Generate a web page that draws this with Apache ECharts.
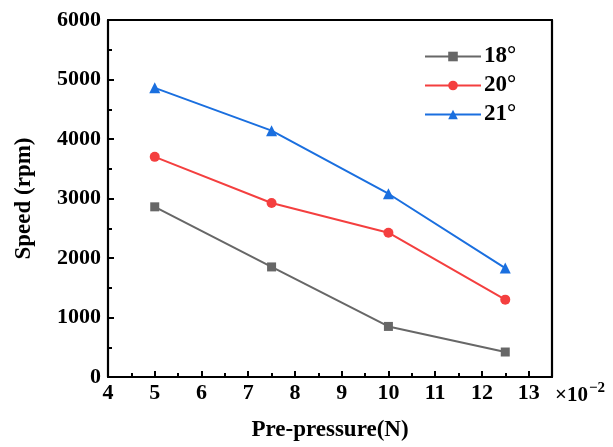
<!DOCTYPE html>
<html>
<head>
<meta charset="utf-8">
<script src="https://cdn.jsdelivr.net/npm/echarts@6/dist/echarts.min.js"></script>
<style>html,body{margin:0;padding:0;background:#fff}#c{width:613px;height:447px}</style>
</head>
<body>
<div id="c"></div>
<script>
const pressure = [5, 7.5, 10, 12.5];
const seriesNames = ['18°', '20°', '21°'];
const speed18 = [2860, 1850, 850, 420];
const speed20 = [3700, 2925, 2425, 1300];
const speed21 = [4860, 4140, 3080, 1830];
const yTicks = [0, 1000, 2000, 3000, 4000, 5000, 6000];

const FONT = 'Liberation Serif';
const colors = ['#676767', '#F43F3F', '#1A6FDF'];
const symbols = ['rect', 'circle', 'triangle'];
const sizes = [9, 10, 11];
const datas = [speed18, speed20, speed21];

const chart = echarts.init(document.getElementById('c'));
const mkLine = () => ({show: true, onZero: false, lineStyle: {color: '#000', width: 2.2}});
const mkTick = () => ({show: true, inside: true, interval: 0, length: 6, lineStyle: {width: 2, color: '#000'}});
const mkMinor = () => ({show: true, splitNumber: 2, length: 4, lineStyle: {width: 2, color: '#000'}});
chart.setOption({
  animation: false,
  grid: {left: 108, top: 20, right: 61, bottom: 68},
  legend: {
    orient: 'vertical', left: 419, top: 39, itemWidth: 56, itemHeight: 12, itemGap: 4,
    textStyle: {fontFamily: FONT, fontWeight: 'bold', fontSize: 23, color: '#000', lineHeight: 25, padding: [0,0,0,-2]},
    data: seriesNames
  },
  xAxis: [{
    type: 'value', min: 4, max: 13.5, interval: 1,
    name: 'Pre-pressure(N)', nameLocation: 'middle', nameGap: 42,
    nameTextStyle: {fontFamily: FONT, fontWeight: 'bold', fontSize: 23, color: '#000'},
    axisLine: mkLine(), axisTick: mkTick(), minorTick: mkMinor(),
    axisLabel: {fontFamily: FONT, fontWeight: 'bold', fontSize: 22, color: '#000', margin: 5, showMaxLabel: false,
      formatter: v => (Number.isInteger(v) ? String(v) : '')},
    splitLine: {show: false}
  }, {
    type: 'value', min: 4, max: 13.5, position: 'top',
    axisLine: mkLine(), axisTick: {show: false}, axisLabel: {show: false}, splitLine: {show: false}
  }],
  yAxis: [{
    type: 'value', min: yTicks[0], max: yTicks[yTicks.length - 1], interval: 1000,
    name: 'Speed (rpm)', nameLocation: 'middle', nameGap: 72,
    nameTextStyle: {fontFamily: FONT, fontWeight: 'bold', fontSize: 23, color: '#000'},
    axisLine: mkLine(), axisTick: mkTick(), minorTick: mkMinor(),
    axisLabel: {fontFamily: FONT, fontWeight: 'bold', fontSize: 22, color: '#000', margin: 7,
      formatter: v => String(v)},
    splitLine: {show: false}
  }, {
    type: 'value', min: yTicks[0], max: yTicks[yTicks.length - 1], position: 'right',
    axisLine: mkLine(), axisTick: {show: false}, axisLabel: {show: false}, splitLine: {show: false}
  }],
  graphic: [{
    type: 'text', left: 555, top: 381,
    style: {
      text: '{a|×10}{b|−2}',
      rich: {
        a: {fontFamily: FONT, fontWeight: 'bold', fontSize: 21, fill: '#000', verticalAlign: 'bottom'},
        b: {fontFamily: FONT, fontWeight: 'bold', fontSize: 15, fill: '#000', verticalAlign: 'top', padding: [0, 0, 10, 1]}
      }
    }
  }],
  series: seriesNames.map((n, i) => ({
    name: n, type: 'line', xAxisIndex: 0, yAxisIndex: 0,
    data: pressure.map((p, j) => [p, datas[i][j]]),
    symbol: symbols[i], symbolSize: sizes[i], showSymbol: true,
    lineStyle: {color: colors[i], width: 2},
    itemStyle: {color: colors[i]}
  }))
});
</script>
</body>
</html>
